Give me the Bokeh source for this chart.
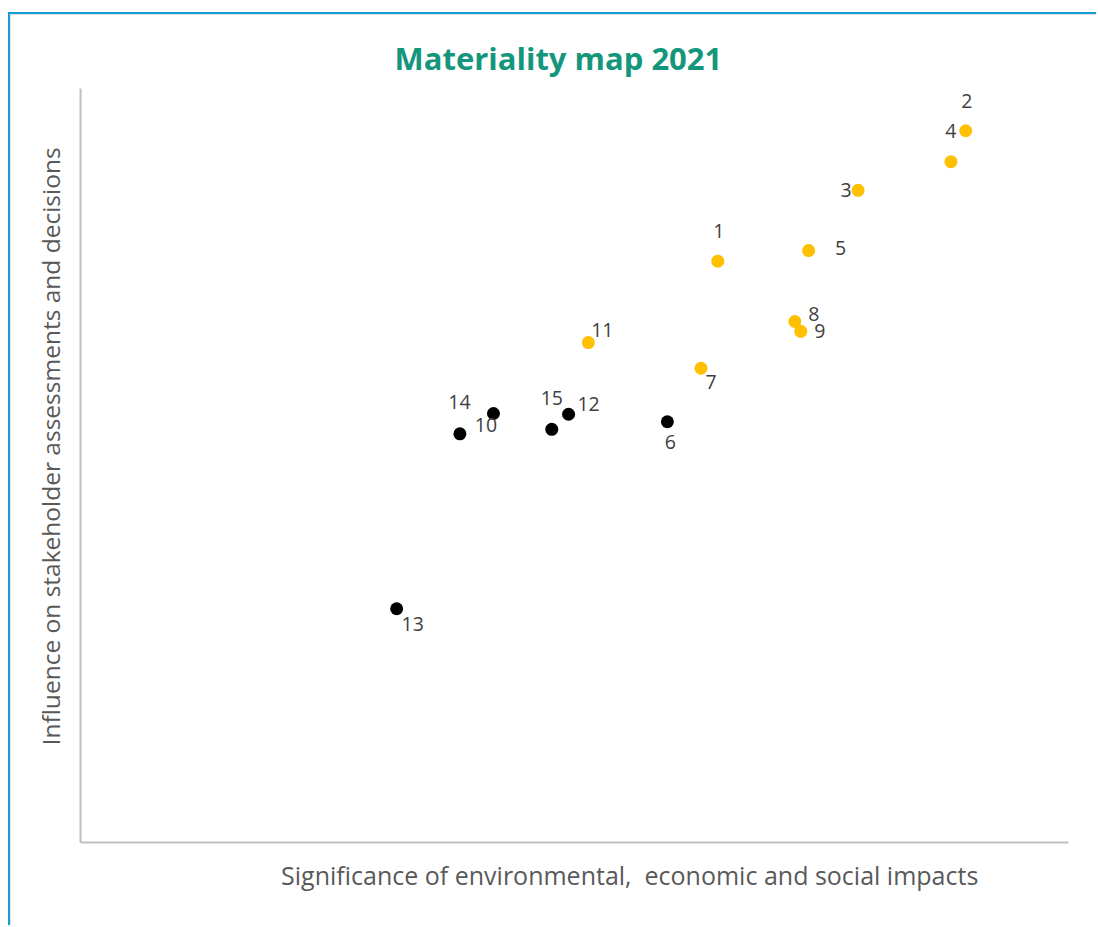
from bokeh.plotting import figure
from bokeh.models import ColumnDataSource, Range1d
from bokeh.embed import file_html
from bokeh.resources import INLINE
from bokeh.core.properties import value

# ---- data ----
labels = ["1", "2", "3", "4", "5", "7", "8", "9", "11",
          "6", "10", "12", "13", "14", "15"]
impact = [6.45, 8.96, 7.87, 8.81, 7.37, 6.28, 7.23, 7.29, 5.14,
          5.94, 3.84, 4.94, 3.20, 4.18, 4.77]
influence = [7.71, 9.44, 8.65, 9.03, 7.85, 6.29, 6.91, 6.78, 6.63,
             5.58, 5.42, 5.68, 3.10, 5.69, 5.48]
group = ["material"] * 9 + ["other"] * 6

title_text = "Materiality map 2021"
x_title = "Significance of environmental,\u00a0 economic and social impacts"
y_title = "Influence on stakeholder assessments and decisions"

# label placement (screen pixel offsets), style only
label_dx = [1, 1, -12, 0, 32, 10, 19, 19, 14, 3, 26, 20, 16, -34, 0]
label_dy = [-30, -30, 0, -31, -3, 14, -7, 0, -13, 20, -9, -10, 15, -11, -31]

colors = ["#FFC000" if g == "material" else "#000000" for g in group]

src = ColumnDataSource(dict(x=impact, y=influence, lab=labels, c=colors,
                            dx=label_dx, dy=label_dy))

W, H = 1088, 913
p = figure(width=W, height=H, output_backend="svg", toolbar_location=None,
           x_range=Range1d(0, 10), y_range=Range1d(0, 10),
           min_border_left=70, min_border_right=30, min_border_top=74,
           min_border_bottom=85)
p.margin = (12, 0, 0, 8)
p.styles = {"border-top": "2px solid #12A0D3", "border-left": "2px solid #12A0D3",
            "box-shadow": "inset 2px 2px 0 #D9D9D9"}
p.background_fill_color = None
p.border_fill_color = "white"
p.outline_line_color = None
p.grid.visible = False

p.title.text = title_text
p.title.align = "left"
p.title.offset = 314
p.title.text_font = "Open Sans"
p.title.text_font_style = "bold"
p.title.text_font_size = "31px"
p.title.text_color = "#14967D"
p.title.standoff = 20

for ax in (p.xaxis[0], p.yaxis[0]):
    ax.axis_line_color = "#BFBFBF"
    ax.axis_line_width = 2
    ax.major_tick_line_color = None
    ax.minor_tick_line_color = None
    ax.major_label_text_font_size = "0px"
    ax.major_label_text_color = None
    ax.axis_label_text_font = "Open Sans"
    ax.axis_label_text_font_style = "normal"
    ax.axis_label_text_color = "#595959"

nb = "\u00a0"
p.xaxis[0].axis_label = nb * 17 + x_title
p.xaxis[0].axis_label_text_font_size = "25px"
p.xaxis[0].axis_label_standoff = 9
p.yaxis[0].axis_label = nb * 6 + y_title
p.yaxis[0].axis_label_text_font_size = "24.5px"
p.yaxis[0].axis_label_standoff = 8

p.scatter("x", "y", source=src, size=13, fill_color="c", line_color=None)
p.text("x", "y", text="lab", source=src, x_offset="dx", y_offset="dy",
       text_align="center", text_baseline="middle", text_font=value("Open Sans"),
       text_font_size="19.5px", text_color="#404040")

open("out.html", "w").write(file_html(p, INLINE))
